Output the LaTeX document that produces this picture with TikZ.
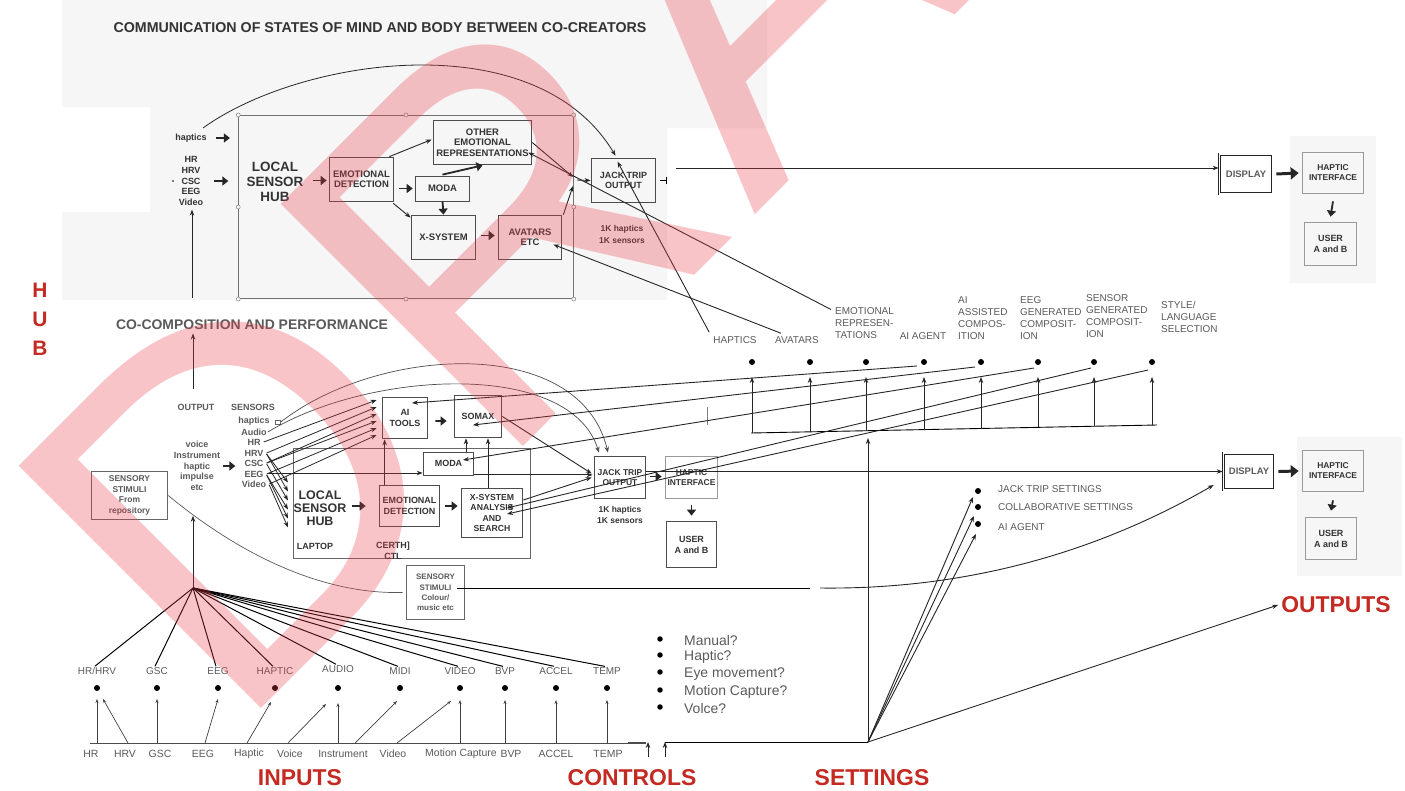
\documentclass[tikz,border=0pt]{standalone}
\usepackage{fontspec}
\setmainfont{Liberation Sans}
\usetikzlibrary{arrows.meta,calc,positioning}
\definecolor{inkgray}{HTML}{333333}
\definecolor{softgray}{HTML}{5A5A5A}
\definecolor{labred}{HTML}{C42A22}
\definecolor{wmpink}{HTML}{EB3C46}
\definecolor{panel}{HTML}{F6F6F6}

\begin{document}
\begin{tikzpicture}[x=1bp,y=-1bp,
  arr/.style={-{Stealth[length=6pt,width=4.5pt]},line width=0.9pt,draw=black!85},
  sarr/.style={-{Stealth[length=4pt,width=3pt]},line width=0.7pt,draw=black!75},
  fat/.style={-{Triangle[length=6pt,width=9pt]},line width=1.8pt,draw=black!85},
  faint/.style={line width=0.7pt,draw=black!65},
  box/.style={draw=black!70,line width=0.9pt,align=center,inner sep=1pt,text=inkgray,font=\bfseries\fontsize{9.5}{10.5}\selectfont},
  greybox/.style={box,draw=black!40,font=\bfseries\fontsize{8.5}{10}\selectfont},
  lab/.style={align=center,inner sep=1pt,text=inkgray,font=\bfseries\fontsize{9}{10.7}\selectfont},
  tag/.style={align=left,inner sep=1pt,text=softgray,font=\fontsize{10}{11.8}\selectfont},
  low/.style={tag,font=\fontsize{10.5}{12}\selectfont},
  redlab/.style={inner sep=0pt,text=labred,font=\bfseries\fontsize{23}{23}\selectfont},
  blob/.style={circle,fill=black,inner sep=0pt,minimum size=6pt},
  handle/.style={circle,draw=black!50,fill=white,inner sep=0pt,minimum size=4pt,line width=0.5pt}]

\useasboundingbox (0,0) rectangle (1405,790);
\fill[white] (0,0) rectangle (1405,790);
\fill[panel] (62,0) -- (767,0) -- (767,128) -- (667,128) -- (667,300) -- (62,300) -- cycle;
\fill[white] (62,107) rectangle (150,212);
\fill[panel] (1290,136) rectangle (1376,283);
\fill[panel] (1297,437) rectangle (1402,576);

% communication of states
\node[font=\bfseries\fontsize{14.3}{15}\selectfont,text=inkgray] (topTitle) at (380,28) {COMMUNICATION OF STATES OF MIND AND BODY BETWEEN CO-CREATORS};
\node[draw=black!55,line width=0.8pt,minimum width=336,minimum height=184,inner sep=0] (topFrame) at (406,207) {};
\foreach \a in {north west,north,north east,west,east,south west,south,south east}
  \node[handle] at (topFrame.\a) {};

\node[lab] (hapT) at (191,138) {haptics};
\node[lab] (sigT) at (191,181) {HR\\HRV\\CSC\\EEG\\Video};
\fill (173,181) circle (0.9);
\draw[fat] ($(hapT.east)+(8,0)$) -- ++(14,0);
\draw[fat] ($(sigT.east)+(10,0)$) -- ++(14,0);
\coordinate (coUp) at (192,298);
\draw[arr] (coUp) -- ($(coUp |- sigT.south)+(0,3)$);

\node[font=\bfseries\fontsize{13.5}{15}\selectfont,text=inkgray,align=center] (lshT) at (275,182) {LOCAL\\SENSOR\\HUB};
\node[box,minimum width=65,minimum height=45] (emoT) at (361.5,179.5) {EMOTIONAL\\DETECTION};
\node[box,minimum width=99,minimum height=45] (otherT) at (482.5,142.5) {OTHER\\EMOTIONAL\\REPRESENTATIONS};
\node[box,minimum width=55,minimum height=25] (modaT) at (442.5,188.5) {MODA};
\node[box,minimum width=65,minimum height=45] (xsysT) at (443.5,237.5) {X-SYSTEM};
\node[box,minimum width=64,minimum height=45] (avaT) at (530,237.5) {AVATARS\\ETC};
\node[box,minimum width=65,minimum height=45,font=\bfseries\fontsize{9}{10.5}\selectfont] (jackT) at (623.5,180.5) {JACK TRIP\\OUTPUT};
\node[lab,font=\bfseries\fontsize{8.5}{12}\selectfont] (kT) at (622,234) {1K haptics\\1K sensors};

\draw[fat] ($(emoT.west)+(-16,1)$) -- ($(emoT.west)+(-2,1)$);
\draw[arr] ($(emoT.north east)+(-5,0)$) -- ($(otherT.west)+(-1,-3)$);
\draw[fat] ($(emoT.east |- modaT.west)+(5,0)$) -- ($(modaT.west)+(-2,0)$);
\draw[arr] ($(emoT.south east)+(-1,1)$) -- ($(xsysT.north west)+(0,3)$);
\draw[fat] ($(modaT.north)+(0,-1)$) -- (otherT.south);
\draw[fat] (modaT.south) -- (xsysT.north);
\draw[fat] ($(xsysT.east)+(5,-2)$) -- ($(avaT.west)+(-3,-2)$);
\coordinate (jIn) at (574,180);
\draw[arr] (otherT.east) -- ($(jIn)+(-1,-3)$);
\draw[arr] ($(avaT.north east)+(1,0)$) -- ($(jIn)+(-1,6)$);
\draw[arr] ($(jIn)+(3,0)$) -- (jackT.west);
\coordinate (arcT) at (203,128);
\draw[arr,line width=0.8pt] (arcT) .. controls (300,58) and (535,22) .. ($(jackT.north)+(-8,-2)$);
\draw[line width=1.4pt,-{Bar[width=7pt]}] ($(jackT.east)+(4,0)$) -- ++(7,0);
\coordinate (jtOut) at (676,168);

\node[box,double,double distance=1.2pt,draw=black!85,text=softgray,minimum width=54,minimum height=40] (dispT) at (1246,174) {DISPLAY};
\node[greybox,minimum width=62,minimum height=42] (hapR) at (1333,173) {HAPTIC\\INTERFACE};
\node[greybox,minimum width=53,minimum height=44,font=\bfseries\fontsize{9}{11}\selectfont] (userR) at (1330.5,244) {USER\\A and B};
\draw[arr] (jtOut) -- (jtOut -| dispT.west);
\draw[fat,line width=3pt,-{Triangle[length=8pt,width=12pt]}] ($(dispT.east)+(3,0)$) -- ($(hapR.west)+(-3,0)$);
\draw[fat] ($(hapR.south)+(0,7)$) -- ($(userR.north)+(0,-5)$);

% co-composition
\node[font=\bfseries\fontsize{21}{21}\selectfont,text=labred] (hubH) at (40,290) {H};
\node[font=\bfseries\fontsize{21}{21}\selectfont,text=labred] (hubU) at (40,319) {U};
\node[font=\bfseries\fontsize{21}{21}\selectfont,text=labred] (hubB) at (40,348) {B};
\node[font=\bfseries\fontsize{14}{15}\selectfont,text=softgray] (coTitle) at (252,325) {CO-COMPOSITION AND PERFORMANCE};
\node[lab,text=softgray] (outM) at (196,407) {OUTPUT};
\draw[arr] ($(outM.north)+(-3,-14)$) -- ($(outM.north |- coTitle.south)+(-3,0)$);
\node[lab,text=softgray] (sensM) at (253,407) {SENSORS};
\foreach \n/\t/\y in {sHap/haptics/421,sAud/Audio/432,sHR/HR/442,sHRV/HRV/453,sCSC/CSC/463,sEEG/EEG/474,sVid/Video/484}
  \node[lab,text=softgray] (\n) at (254,\y) {\t};
\node[draw=black!60,line width=0.5pt,minimum width=5,minimum height=4,inner sep=0] (sq) at (278,422) {};
\node[lab,text=softgray] (voiceM) at (197,466) {voice\\Instrument\\haptic\\impulse\\etc};
\draw[fat] ($(voiceM.east)+(2,0)$) -- ++(12,0);
\node[box,draw=black!60,text=softgray,minimum width=77,minimum height=49,font=\bfseries\fontsize{8.5}{10.5}\selectfont] (stimRepo) at (129.5,495.5) {SENSORY\\STIMULI\\From\\repository};

\node[draw=black!60,line width=0.9pt,minimum width=238,minimum height=111,inner sep=0] (midFrame) at (412,503.5) {};
\node[font=\bfseries\fontsize{12.5}{13}\selectfont,text=inkgray,align=center] (lshM) at (320,508) {LOCAL\\SENSOR\\HUB};
\node[lab] (lapM) at (315,546) {LAPTOP};
\node[lab] (certM) at (393,551) {CERTH]\\CTL};
\node[box,minimum width=61,minimum height=42,font=\bfseries\fontsize{9}{10.5}\selectfont] (emoM) at (409.5,506) {EMOTIONAL\\DETECTION};
\node[box,minimum width=62,minimum height=50,font=\bfseries\fontsize{8.7}{10.2}\selectfont] (xsysM) at (492,513) {X-SYSTEM\\ANALYSIS\\AND\\SEARCH};
\node[box,minimum width=51,minimum height=23,font=\bfseries\fontsize{9}{10.5}\selectfont] (modaM) at (448.5,463.5) {MODA};
\node[box,minimum width=46,minimum height=42,font=\bfseries\fontsize{9}{10.5}\selectfont] (aiM) at (405,418) {AI\\TOOLS};
\node[box,minimum width=48,minimum height=43,font=\bfseries\fontsize{9}{10.5}\selectfont] (somM) at (478,416.5) {SOMAX};
\node[box,minimum width=52,minimum height=43,font=\bfseries\fontsize{8.5}{10.5}\selectfont] (jackM) at (620,477.5) {JACK TRIP\\OUTPUT};
\node[lab,font=\bfseries\fontsize{8.5}{11}\selectfont] (kM) at (620,515) {1K haptics\\1K sensors};
\node[greybox,minimum width=53,minimum height=43] (hapM) at (691.5,477.5) {HAPTIC\\INTERFACE};
\node[box,minimum width=51,minimum height=47,font=\bfseries\fontsize{9}{11}\selectfont] (userM) at (691.5,544.5) {USER\\A and B};
\node[box,draw=black!60,text=softgray,minimum width=59,minimum height=55,font=\bfseries\fontsize{8}{10.3}\selectfont] (stimCol) at (435.5,592.5) {SENSORY\\STIMULI\\Colour/\\music etc};

\draw[fat] ($(emoM.west)+(-27,0)$) -- ($(emoM.west)+(-13,0)$);
\draw[fat] ($(emoM.east)+(5,0)$) -- ($(xsysM.west)+(-3,-7)$);
\draw[fat] ($(aiM.east)+(7,3)$) -- ($(somM.west)+(-7,4.5)$);
\draw[arr] ($(aiM.south west |- emoM.north)+(3,0)$) -- ($(aiM.south west)+(3,0)$);
\draw[arr] ($(somM.south |- modaM.north)+(-12,0)$) -- ($(somM.south)+(-12,0)$);
\draw[arr] ($(somM.south |- xsysM.north)+(10,0)$) -- ($(somM.south)+(10,0)$);
\draw[arr] ($(sEEG.east)+(3,-1)$) -- ($(sEEG.east -| modaM.west)+(0,-1)$);
\draw[arr] ($(modaM.south east)+(0,-0.5)$) -- ($(modaM.south east -| jackM.west)+(-1,-0.5)$);
\draw[arr] (somM.east) -- ($(jackM.west)+(-2,-4)$);
\draw[arr] ($(xsysM.east)+(0,-13)$) -- ($(jackM.west)+(-2,0)$);
\draw[fat] ($(jackM.east)+(4,-1)$) -- ($(hapM.west)+(-3,-1)$);
\draw[fat] ($(hapM.south)+(0,6)$) -- ($(userM.north)+(0,-5)$);
\draw[arr,line width=0.7pt,draw=black!70] (sq.east) .. controls (380,345) and (580,335) .. ($(jackM.north)+(-12,-3)$);
\draw[arr,line width=0.7pt,draw=black!70] (sAud.east) .. controls (370,370) and (570,360) .. ($(jackM.north)+(-21,-3)$);
\foreach \s/\dy in {sHR/-18,sHRV/-11,sCSC/-4,sCSC/3,sEEG/10,sVid/17}
  \draw[arr,line width=0.8pt] ($(\s.east)+(2,0)$) -- ($(aiM.west)+(-5,\dy)$);
\foreach \s/\dy in {sHRV/-21,sHRV/-12,sCSC/-3,sEEG/6,sEEG/15,sVid/24}
  \draw[arr,line width=0.8pt] ($(\s.east)+(2,1)$) -- ($(midFrame.west)+(-5,\dy)$);
\draw[faint] (stimRepo.east) .. controls (210,530) and (300,595) .. ($(stimCol.west)+(-3,0)$);

\node[box,double,double distance=1.2pt,draw=black!85,text=softgray,minimum width=52,minimum height=37] (dispM) at (1249,471.5) {DISPLAY};
\node[greybox,minimum width=62,minimum height=42] (hapR2) at (1333,471) {HAPTIC\\INTERFACE};
\node[greybox,minimum width=52,minimum height=43,font=\bfseries\fontsize{9}{11}\selectfont] (userR2) at (1331,538.5) {USER\\A and B};
\draw[arr] (jackM.east |- dispM.west) -- (dispM.west);
\draw[fat,line width=3pt,-{Triangle[length=8pt,width=12pt]}] ($(dispM.east)+(3,0)$) -- ($(hapR2.west)+(-3,0)$);
\draw[fat] ($(hapR2.south)+(0,8)$) -- ($(userR2.north)+(0,-6)$);

% settings bus
\node[tag] (hapL) at (735,340) {HAPTICS};
\node[tag] (avaL) at (797,340) {AVATARS};
\node[tag,anchor=west] (erL) at (834,323) {EMOTIONAL\\REPRESEN-\\TATIONS};
\node[tag] (aiaL) at (923,336) {AI AGENT};
\node[tag,anchor=west] (aasL) at (957,318) {AI\\ASSISTED\\COMPOS-\\ITION};
\node[tag,anchor=west] (eegL) at (1019,318) {EEG\\GENERATED\\COMPOSIT-\\ION};
\node[tag,anchor=west] (sgL) at (1085,316) {SENSOR\\GENERATED\\COMPOSIT-\\ION};
\node[tag,anchor=west] (styL) at (1160,317) {STYLE/\\LANGUAGE\\SELECTION};
\foreach \i/\x in {1/752,2/810,3/866,4/924,5/981,6/1038,7/1094,8/1152}
  \node[blob] (d\i) at (\x,362) {};
\coordinate (busL) at (751,433);
\coordinate (busR) at (1157,425);
\draw[line width=0.9pt] (busL) -- (busR);
\foreach \i/\dy in {1/71,2/70,3/69,4/68,5/66.5,6/65.3,7/64.2,8/63.1}
  \draw[arr] ($(d\i)+(0,\dy)$) -- ($(d\i)+(0,15)$);
\draw[black!50,line width=0.8pt] (707,407) -- (707,425);

\draw[arr] ($(hapL.north west)+(-3,-3)$) -- ($(jackT.north)+(-6,4)$);
\draw[arr] ($(avaL.north west)+(7,-2)$) -- ($(avaT.east)+(-9,7)$);
\draw[arr] ($(erL.north west)+(-3,3)$) -- ($(otherT.east)+(-4,10)$);
\draw[arr] ($(d4)+(-7,4)$) -- ($(aiM.center)+(7,-15)$);
\draw[arr] ($(d5)+(-6,5)$) -- ($(somM.center)+(-5,8.5)$);
\draw[arr] ($(d6)+(-4,6)$) -- ($(modaM.center)+(14.5,-3.5)$);
\draw[arr] ($(d7)+(-3,6)$) -- ($(xsysM.center)+(15,-5)$);
\draw[arr] ($(d8)+(-4,8)$) -- ($(xsysM.center)+(15,1)$);

\coordinate (setPt) at (868,742);
\draw[arr] (setPt) -- ($(setPt |- busL)+(0,5)$);
\node[blob] (s1) at (978,491) {};
\node[blob] (s2) at (978,507) {};
\node[blob] (s3) at (978,524) {};
\node[tag,anchor=west] (st1) at (997,489) {JACK TRIP SETTINGS};
\node[tag,anchor=west] (st2) at (997,507) {COLLABORATIVE SETTINGS};
\node[tag,anchor=west] (st3) at (997,527) {AI AGENT};
\draw[arr] (setPt) -- ($(s1)+(-5,6)$);
\draw[arr] (setPt) -- ($(s2)+(-4,9)$);
\draw[arr] (setPt) -- ($(s3)+(-2,10)$);

\coordinate (gapA) at (810,588);
\coordinate (gapB) at (820,588);
\draw[line width=0.9pt] ($(stimCol.east)+(-8,-4.5)$) -- (gapA);
\draw[arr] (gapB) .. controls (980,590) and (1110,545) .. ($(dispM.west)+(-9,13.5)$);

% inputs
\coordinate (inHub) at (193,588);
\draw[arr] (inHub) -- ($(inHub |- voiceM.south)+(0,24)$);
\node[tag] (iL1) at (97,671) {HR/HRV};
\node[tag] (iL2) at (157,671) {GSC};
\node[tag] (iL3) at (218,671) {EEG};
\node[tag] (iL4) at (275,671) {HAPTIC};
\node[tag] (iL5) at (338,669) {AUDIO};
\node[tag] (iL6) at (400,671) {MIDI};
\node[tag] (iL7) at (460,671) {VIDEO};
\node[tag] (iL8) at (505,671) {BVP};
\node[tag] (iL9) at (556,671) {ACCEL};
\node[tag] (iL10) at (607,671) {TEMP};
\foreach \i in {1,...,10} {
  \node[blob] (iD\i) at (iL\i |- 0,688) {};
  \draw[line width=1pt] (inHub) -- ($(iL\i.north)+(-2,0)$);
}
\node[low] (bL1) at (91,754) {HR};
\node[low] (bL2) at (125,754) {HRV};
\node[low] (bL3) at (160,754) {GSC};
\node[low] (bL4) at (203,754) {EEG};
\node[low] (bL5) at (249,754) {Haptic};
\node[low] (bL6) at (290,754) {Voice};
\node[low] (bL7) at (343,754) {Instrument};
\node[low] (bL8) at (393,754) {Video};
\node[low] (bL9) at (461,754) {Motion Capture};
\node[low] (bL10) at (511,754) {BVP};
\node[low] (bL11) at (556,754) {ACCEL};
\node[low] (bL12) at (608,754) {TEMP};
\coordinate (busInL) at (90,743);
\coordinate (busInR) at (646,743);
\draw[line width=0.9pt,black!70] (busInL) -- (busInR);
\draw[line width=2pt,black!70] ($(busInR)+(-18,0)$) -- (busInR);
\draw[sarr] (iD1 |- busInL) -- ($(iD1)+(0,11)$);
\draw[sarr] ($(bL2.north |- busInL)+(3,0)$) -- ($(iD1)+(6,11)$);
\draw[sarr] (iD2 |- busInL) -- ($(iD2)+(0,11)$);
\draw[sarr] ($(bL4.north |- busInL)+(2,0)$) -- ($(iD3)+(0,11)$);
\draw[sarr] ($(bL5.north |- busInL)+(-2,0)$) -- ($(iD4)+(-4,14)$);
\draw[sarr] ($(bL6.north |- busInL)+(-2,0)$) -- ($(iD5)+(-12,16)$);
\draw[sarr] (iD5 |- busInL) -- ($(iD5)+(0,15)$);
\draw[sarr] ($(bL7.north |- busInL)+(12,0)$) -- ($(iD6)+(-3,13)$);
\draw[sarr] ($(bL8.north |- busInL)+(4,0)$) -- ($(iD7)+(-9,13)$);
\draw[sarr] (iD7 |- busInL) -- ($(iD7)+(0,12)$);
\draw[sarr] (iD8 |- busInL) -- ($(iD8)+(0,12)$);
\draw[sarr] (iD9 |- busInL) -- ($(iD9)+(0,12)$);
\draw[sarr] (iD10 |- busInL) -- ($(iD10)+(0,12)$);

% controls
\foreach \i/\y/\t in {1/641/Manual?,2/657/Haptic?,3/674/Eye movement?,4/692/Motion Capture?,5/709/Volce?} {
  \node[blob,minimum size=5.5pt] (cb\i) at (660,\y-2) {};
  \node[anchor=west,inner sep=0,text=softgray,font=\fontsize{14}{14}\selectfont] (ct\i) at (684,\y) {\t};
}
\node[redlab] (inputsL) at (300,778) {INPUTS};
\node[redlab] (ctrlL) at (632,778) {CONTROLS};
\node[redlab] (setL) at (872,778) {SETTINGS};
\node[redlab] (outputsL) at (1336,605) {OUTPUTS};
\draw[arr] ($(ctrlL.north |- setPt)+(16,15)$) -- ($(ctrlL.north |- setPt)+(16,0)$);
\draw[arr] ($(ctrlL.north |- setPt)+(33,15)$) -- ($(ctrlL.north |- setPt)+(33,0)$);
\draw[line width=0.9pt] ($(ctrlL.north |- setPt)+(33,0)$) -- (setPt);
\draw[arr] (setPt) -- ($(outputsL.west)+(-3,0)$);

\node[rotate=45,anchor=base west,inner sep=0,text=wmpink,opacity=0.3,text opacity=0.3,font=\fontsize{500}{500}\selectfont] (draftMark) at (232,738) {D\kern12pt R\kern8pt AFT};
\end{tikzpicture}
\end{document}
